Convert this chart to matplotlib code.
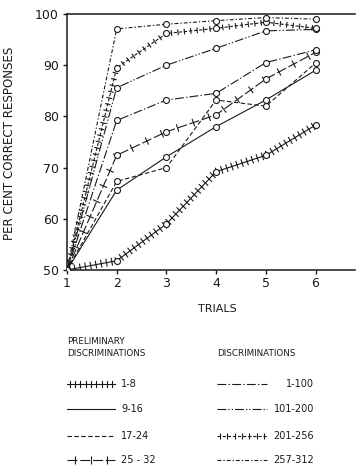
import numpy as np
import matplotlib
matplotlib.use("Agg")
import matplotlib.pyplot as plt
import matplotlib.patheffects as pe
from matplotlib.lines import Line2D

# Per cent correct responses over six trials, for blocks of discriminations

trials = [1, 2, 3, 4, 5, 6]

pre_1_8 = [50, 51.8, 59.0, 69.2, 72.4, 78.3]
pre_9_16 = [50, 65.6, 72.1, 78.0, 83.2, 89.0]
pre_17_24 = [50, 67.3, 70.0, 83.2, 82.0, 90.4]
pre_25_32 = [50, 72.4, 77.0, 80.3, 87.3, 92.5]

dis_1_100 = [50, 79.2, 83.2, 84.5, 90.5, 93.0]
dis_101_200 = [50, 85.6, 90.0, 93.3, 96.7, 97.0]
dis_201_256 = [50, 89.5, 96.2, 97.2, 98.4, 97.2]
dis_257_312 = [50, 97.1, 98.0, 98.7, 99.3, 99.0]

pre_labels = ["1-8", "9-16", "17-24", "25-32"]
dis_labels = ["1-100", "101-200", "201-256", "257-312"]

ink = "#1a1a1a"
W, H = 358, 467


def ticks(spacing, length):
    # crossing ticks: one each side of the line
    return [pe.TickedStroke(spacing=spacing, angle=90, length=length),
            pe.TickedStroke(spacing=spacing, angle=-90, length=length),
            pe.Normal()]


styles = {
    "1-8": dict(ls="-", effects=ticks(3.8, 0.65)),
    "9-16": dict(ls="-", effects=None),
    "17-24": dict(ls=(0, (4, 2.2)), effects=None),
    "25-32": dict(ls=(0, (9, 2.5)), effects=ticks(11.5, 0.25)),
    "1-100": dict(ls=(0, (8, 2, 1.2, 2)), effects=None),
    "101-200": dict(ls=(0, (8, 1.8, 1.2, 1.8, 1.2, 1.8)), effects=None),
    "201-256": dict(ls=(0, (3, 1.6)), effects=ticks(4.6, 0.45)),
    "257-312": dict(ls=(0, (3.5, 1.8, 1.2, 1.8)), effects=None),
}

series = {
    "1-8": pre_1_8, "9-16": pre_9_16, "17-24": pre_17_24, "25-32": pre_25_32,
    "1-100": dis_1_100, "101-200": dis_101_200,
    "201-256": dis_201_256, "257-312": dis_257_312,
}

fig = plt.figure(figsize=(W / 100, H / 100), dpi=100)
ax = fig.add_axes([67 / W, 1 - 270 / H, (355 - 67) / W, 256 / H])

for name, vals in series.items():
    st = styles[name]
    ln, = ax.plot(trials, vals, color=ink, lw=0.8, ls=st["ls"], zorder=2)
    if st["effects"]:
        ln.set_path_effects(st["effects"])
    ax.plot(trials, vals, ls="none", marker="o", ms=4.3, mfc="white",
            mec=ink, mew=0.8, zorder=3)

ax.set_xlim(1, 1 + (355 - 67) / 49.7)
ax.set_ylim(50, 100)
ax.set_xticks(trials)
ax.set_yticks([50, 60, 70, 80, 90, 100])
for s in ["left", "top", "bottom"]:
    ax.spines[s].set_linewidth(1.1)
    ax.spines[s].set_color(ink)
ax.spines["right"].set_visible(False)
ax.tick_params(direction="out", length=3, width=1, colors=ink,
               labelsize=9, pad=2)
ax.tick_params(axis="y", pad=3)

fig.text(10 / W, 1 - 143 / H, "PER CENT CORRECT RESPONSES", rotation=90,
         ha="center", va="center", fontsize=8.6, color=ink)
fig.text(217 / W, 1 - 309 / H, "TRIALS", ha="center", va="center",
         fontsize=8, color=ink)

# legend block
fig.text(67 / W, 1 - 342 / H, "PRELIMINARY", ha="left", va="center",
         fontsize=6.3, color=ink)
fig.text(67 / W, 1 - 354 / H, "DISCRIMINATIONS", ha="left", va="center",
         fontsize=6.3, color=ink)
fig.text(217 / W, 1 - 354 / H, "DISCRIMINATIONS", ha="left", va="center",
         fontsize=6.3, color=ink)

rows = [384, 409, 436, 460]
for y, lab in zip(rows, pre_labels):
    st = styles[lab]
    l = Line2D([67 / W, 115 / W], [1 - y / H] * 2, transform=fig.transFigure,
               color=ink, lw=0.8, ls=st["ls"])
    if st["effects"]:
        l.set_path_effects(st["effects"])
    fig.add_artist(l)
    fig.text(121 / W, 1 - y / H, lab.replace("-", " - ") if lab == "25-32" else lab,
             ha="left", va="center", fontsize=7, color=ink)

for y, lab in zip(rows, dis_labels):
    st = styles[lab]
    l = Line2D([217 / W, 267 / W], [1 - y / H] * 2, transform=fig.transFigure,
               color=ink, lw=0.8, ls=st["ls"])
    if st["effects"]:
        l.set_path_effects(st["effects"])
    fig.add_artist(l)
    fig.text(314 / W, 1 - y / H, lab, ha="right", va="center",
             fontsize=7, color=ink)

fig.savefig("out.png", dpi=100, facecolor="white")
